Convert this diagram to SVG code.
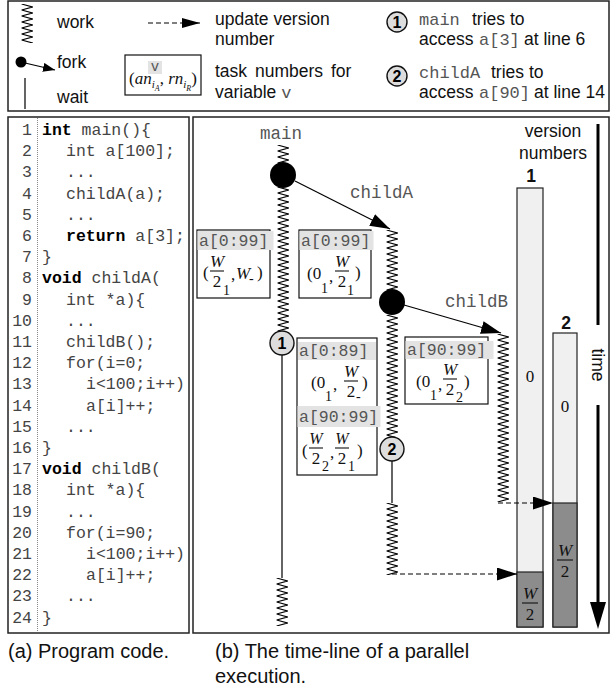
<svg xmlns="http://www.w3.org/2000/svg" width="613" height="691" viewBox="0 0 613 691">
<defs>
<style>
.frame{fill:none;stroke:#222;stroke-width:1.5}
.sans{font-family:"Liberation Sans",Arial,sans-serif;font-size:17.5px;fill:#111}
.cap{font-family:"Liberation Sans",Arial,sans-serif;font-size:20px;fill:#111}
.mono{font-family:"Liberation Mono","Courier New",monospace;fill:#555}
.code{font-family:"Liberation Mono","Courier New",monospace;font-size:16.5px;fill:#444}
.kw{font-weight:bold;fill:#000}
.ln{text-anchor:end}
.math{font-family:"Liberation Serif","Times New Roman",serif;font-size:17px;fill:#111}
.it{font-style:italic}
.sub{font-size:14px}
.mid{text-anchor:middle}
.box{fill:#fff;stroke:#111;stroke-width:1.2}
.band{fill:#e3e3e3}
.bandtxt{font-family:"Liberation Mono","Courier New",monospace;font-size:16.5px;fill:#555}
.zz{fill:url(#zig)}
.wait{stroke:#111;stroke-width:1.3}
.fork{fill:#000}
.mark{fill:#ddd;stroke:#111;stroke-width:1.4}
.marktxt{font-family:"Liberation Sans",Arial,sans-serif;font-weight:bold;font-size:16px;text-anchor:middle;fill:#000}
.arrow{stroke:#000;stroke-width:1.2;fill:none}
.dash{stroke:#000;stroke-width:1.2;stroke-dasharray:5 3;fill:none}
.bar{fill:#f0f0f0;stroke:#222;stroke-width:1.2}
.done{fill:#8c8c8c;stroke:#222;stroke-width:1.2}
.frac{stroke:#111;stroke-width:1.1}
</style>
<pattern id="zig" patternUnits="userSpaceOnUse" width="12" height="6"><polyline points="0.6,0 11.4,3 0.6,6" fill="none" stroke="#000" stroke-width="1.1"/></pattern>
<marker id="ah" viewBox="0 0 20 13" refX="20" refY="6.5" markerWidth="20" markerHeight="13" markerUnits="userSpaceOnUse" orient="auto"><path d="M0,0 L20,6.5 L0,13 z" fill="#000"/></marker>
<marker id="ahs" viewBox="0 0 12 9" refX="12" refY="4.5" markerWidth="12" markerHeight="9" markerUnits="userSpaceOnUse" orient="auto"><path d="M0,0 L12,4.5 L0,9 z" fill="#000"/></marker>
<marker id="ahm" viewBox="0 0 18 10" refX="18" refY="5" markerWidth="18" markerHeight="10" markerUnits="userSpaceOnUse" orient="auto"><path d="M0,0 L18,5 L0,10 z" fill="#000"/></marker>
</defs>
<rect width="613" height="691" fill="#fff"/>

<!-- Legend -->
<g id="legend">
<rect class="frame" x="8" y="1" width="601" height="110"/>
<rect class="zz" x="0" y="0" width="12" height="39" transform="translate(21,4)"/>
<text class="sans" x="57" y="28">work</text>
<circle class="fork" cx="21" cy="62" r="5.5"/>
<path class="arrow" d="M25,63 L55,70" marker-end="url(#ahs)"/>
<text class="sans" x="57" y="68">fork</text>
<line class="wait" x1="25" y1="78" x2="25" y2="109"/>
<text class="sans" x="57" y="103">wait</text>
<path class="dash" d="M148,23 L200,23" marker-end="url(#ahm)"/>
<text class="sans" x="215" y="25">update version</text>
<text class="sans" x="215" y="45">number</text>
<rect class="box" x="125" y="55" width="76" height="40"/>
<rect class="band" x="148" y="61" width="14" height="13"/>
<text class="mono mid" x="155" y="71" font-size="14">v</text>
<text class="math" x="129" y="84">(<tspan class="it">an</tspan><tspan class="it" font-size="11" dy="4">i</tspan><tspan class="it" font-size="8" dy="3">A</tspan><tspan dy="-7">, </tspan><tspan class="it">rn</tspan><tspan class="it" font-size="11" dy="4">i</tspan><tspan class="it" font-size="8" dy="3">R</tspan><tspan dy="-7">)</tspan></text>
<text class="sans" x="215" y="77" word-spacing="3">task numbers for</text>
<text class="sans" x="215" y="98">variable <tspan class="mono" font-size="17">v</tspan></text>
<circle class="mark" cx="397" cy="22" r="10"/>
<text class="marktxt" x="397" y="28">1</text>
<text class="sans" x="419" y="25"><tspan class="mono" font-size="17">main</tspan><tspan x="472">tries to</tspan></text>
<text class="sans" x="419" y="45">access<tspan class="mono" font-size="17" x="479">a[3]</tspan><tspan x="524">at line 6</tspan></text>
<circle class="mark" cx="397" cy="76" r="10"/>
<text class="marktxt" x="397" y="82">2</text>
<text class="sans" x="419" y="78"><tspan class="mono" font-size="17">childA</tspan><tspan x="491">tries to</tspan></text>
<text class="sans" x="419" y="98">access<tspan class="mono" font-size="17" x="479">a[90]</tspan><tspan x="534">at line 14</tspan></text>
</g>

<!-- Program code -->
<g id="code">
<rect class="frame" x="8" y="117" width="181" height="516"/>
<line x1="37.5" y1="118" x2="37.5" y2="632" stroke="#888" stroke-width="1" stroke-dasharray="1 1"/>
<g class="code ln">
<text x="32" y="135">1</text><text x="32" y="156.2">2</text><text x="32" y="177.4">3</text><text x="32" y="198.6">4</text>
<text x="32" y="219.8">5</text><text x="32" y="241">6</text><text x="32" y="262.2">7</text><text x="32" y="283.4">8</text>
<text x="32" y="304.6">9</text><text x="32" y="325.8">10</text><text x="32" y="347">11</text><text x="32" y="368.2">12</text>
<text x="32" y="389.4">13</text><text x="32" y="410.6">14</text><text x="32" y="431.8">15</text><text x="32" y="453">16</text>
<text x="32" y="474.2">17</text><text x="32" y="495.4">18</text><text x="32" y="516.6">19</text><text x="32" y="537.8">20</text>
<text x="32" y="559">21</text><text x="32" y="580.2">22</text><text x="32" y="601.4">23</text><text x="32" y="622.6">24</text>
</g>
<g class="code">
<text x="42" y="135"><tspan class="kw">int</tspan> main(){</text>
<text x="66" y="156.2">int a[100];</text>
<text x="66" y="177.4">...</text>
<text x="66" y="198.6">childA(a);</text>
<text x="66" y="219.8">...</text>
<text x="66" y="241"><tspan class="kw">return</tspan> a[3];</text>
<text x="42" y="262.2">}</text>
<text x="42" y="283.4"><tspan class="kw">void</tspan> childA(</text>
<text x="66" y="304.6">int *a){</text>
<text x="66" y="325.8">...</text>
<text x="66" y="347">childB();</text>
<text x="66" y="368.2">for(i=0;</text>
<text x="86" y="389.4">i&lt;100;i++)</text>
<text x="86" y="410.6">a[i]++;</text>
<text x="66" y="431.8">...</text>
<text x="42" y="453">}</text>
<text x="42" y="474.2"><tspan class="kw">void</tspan> childB(</text>
<text x="66" y="495.4">int *a){</text>
<text x="66" y="516.6">...</text>
<text x="66" y="537.8">for(i=90;</text>
<text x="86" y="559">i&lt;100;i++)</text>
<text x="86" y="580.2">a[i]++;</text>
<text x="66" y="601.4">...</text>
<text x="42" y="622.6">}</text>
</g>
</g>

<!-- Timeline frame -->
<rect class="frame" x="193" y="117" width="416" height="516"/>

<!-- version bars -->
<g id="versions">
<text class="sans mid" x="553" y="137">version</text>
<text class="sans mid" x="553" y="159">numbers</text>
<g id="version1">
<text class="sans mid" x="531" y="182" font-weight="bold">1</text>
<rect class="bar" x="517" y="188" width="26" height="439"/>
<rect class="done" x="517" y="572" width="26" height="55"/>
<text class="math mid" x="530" y="382">0</text>
<text class="math mid it" x="530" y="599">W</text>
<line class="frac" x1="522" y1="603" x2="538" y2="603"/>
<text class="math mid" x="530" y="620">2</text>
</g>
<g id="version2">
<text class="sans mid" x="566" y="329" font-weight="bold">2</text>
<rect class="bar" x="553" y="333" width="24" height="294"/>
<rect class="done" x="553" y="503" width="24" height="124"/>
<text class="math mid" x="565" y="412">0</text>
<text class="math mid it" x="565" y="556">W</text>
<line class="frac" x1="557" y1="560" x2="573" y2="560"/>
<text class="math mid" x="565" y="577">2</text>
</g>
</g>

<!-- time axis -->
<g id="time">
<line x1="598" y1="124" x2="598" y2="325" stroke="#000" stroke-width="3"/>
<text class="sans mid" transform="translate(592,365) rotate(90)">time</text>
<line x1="598" y1="405" x2="598" y2="605" stroke="#000" stroke-width="3"/>
<polygon points="590,602 606,602 598,629" fill="#000"/>
</g>

<!-- main thread -->
<g id="main-thread">
<text class="mono mid" x="281" y="139" font-size="17.5">main</text>
<rect class="zz" x="0" y="0" width="12" height="18" transform="translate(277,145)"/>
<circle class="fork" cx="283" cy="175" r="13"/>
<rect class="zz" x="0" y="0" width="12" height="144" transform="translate(277,187)"/>
<circle class="mark" cx="282" cy="343" r="12"/>
<text class="marktxt" x="282" y="349" font-size="17">1</text>
<line class="wait" x1="282" y1="355" x2="282" y2="578"/>
<rect class="zz" x="0" y="0" width="12" height="48" transform="translate(276,578)"/>
</g>

<!-- childA thread -->
<g id="childA-thread">
<text class="mono" x="350" y="198" font-size="17.5">childA</text>
<rect class="zz" x="0" y="0" width="12" height="60" transform="translate(386,230)"/>
<circle class="fork" cx="392" cy="302" r="13"/>
<rect class="zz" x="0" y="0" width="12" height="122" transform="translate(386,315)"/>
<circle class="mark" cx="392" cy="449" r="12"/>
<text class="marktxt" x="392" y="455" font-size="17">2</text>
<line class="wait" x1="392" y1="461" x2="392" y2="503"/>
<rect class="zz" x="0" y="0" width="12" height="72" transform="translate(386,503)"/>
</g>

<!-- childB thread -->
<g id="childB-thread">
<text class="mono" x="445" y="307" font-size="17.5">childB</text>
<rect class="zz" x="0" y="0" width="12" height="168" transform="translate(497,334)"/>
</g>

<!-- box A -->
<g id="boxA">
<rect class="box" x="197" y="230" width="73" height="68"/>
<rect class="band" x="197.5" y="231" width="76" height="19"/>
<text class="bandtxt" x="199" y="246">a[0:99]</text>
<g class="math">
<text x="203" y="278">(</text>
<text class="it mid" x="217" y="267">W</text>
<line class="frac" x1="210" y1="271" x2="224" y2="271"/>
<text class="mid" x="217" y="287">2</text>
<text class="sub" x="223" y="295">1</text>
<text x="231" y="280">,</text>
<text class="it" x="236" y="279">W</text>
<text class="sub" x="249" y="283">-</text>
<text x="257" y="278">)</text>
</g>
</g>

<!-- box B -->
<g id="boxB">
<rect class="box" x="299" y="230" width="72" height="68"/>
<rect class="band" x="299.5" y="231" width="74" height="19"/>
<text class="bandtxt" x="301" y="246">a[0:99]</text>
<g class="math">
<text x="307" y="279">(0</text>
<text class="sub" x="321" y="293">1</text>
<text x="329" y="282">,</text>
<text class="it mid" x="342" y="267">W</text>
<line class="frac" x1="335" y1="271" x2="349" y2="271"/>
<text class="mid" x="342" y="287">2</text>
<text class="sub" x="347" y="295">1</text>
<text x="355" y="278">)</text>
</g>
</g>

<!-- box C -->
<g id="boxC">
<rect class="box" x="297" y="338" width="80" height="137"/>
<rect class="band" x="298" y="342" width="78" height="18"/>
<text class="bandtxt" x="299" y="356">a[0:89]</text>
<g class="math">
<text x="311" y="388">(0</text>
<text class="sub" x="325" y="401">1</text>
<text x="333" y="390">,</text>
<text class="it mid" x="351" y="377">W</text>
<line class="frac" x1="344" y1="381" x2="358" y2="381"/>
<text class="mid" x="351" y="397">2</text>
<text class="sub" x="356" y="401">-</text>
<text x="362" y="388">)</text>
</g>
<rect class="band" x="297.5" y="406" width="83" height="21"/>
<text class="bandtxt" x="299" y="422">a[90:99]</text>
<g class="math">
<text x="302" y="456">(</text>
<text class="it mid" x="316" y="444" font-size="16">W</text>
<line class="frac" x1="309" y1="448" x2="323" y2="448"/>
<text class="mid" x="316" y="464">2</text>
<text class="sub" x="322" y="471">2</text>
<text x="330" y="458">,</text>
<text class="it mid" x="342" y="444" font-size="16">W</text>
<line class="frac" x1="335" y1="448" x2="349" y2="448"/>
<text class="mid" x="342" y="464">2</text>
<text class="sub" x="348" y="471">1</text>
<text x="357" y="456">)</text>
</g>
</g>

<!-- box D -->
<g id="boxD">
<rect class="box" x="405" y="337" width="83" height="67"/>
<rect class="band" x="405.5" y="341" width="88" height="18"/>
<text class="bandtxt" x="407" y="355">a[90:99]</text>
<g class="math">
<text x="416" y="387">(0</text>
<text class="sub" x="430" y="400">1</text>
<text x="438" y="390">,</text>
<text class="it mid" x="450" y="375">W</text>
<line class="frac" x1="443" y1="379" x2="457" y2="379"/>
<text class="mid" x="450" y="395">2</text>
<text class="sub" x="456" y="402">2</text>
<text x="464" y="387">)</text>
</g>
</g>

<!-- connectors -->
<g id="connectors">
<path class="arrow" d="M295,181 L390,229" marker-end="url(#ah)"/>
<path class="arrow" d="M404,305 L501,333" marker-end="url(#ah)"/>
<path class="dash" d="M498,503 L553,503" marker-end="url(#ah)"/>
<path class="dash" d="M392,574 L517,574" marker-end="url(#ah)"/>
</g>

<!-- captions -->
<text class="cap" x="8" y="658">(a) Program code.</text>
<text class="cap" x="215" y="658">(b) The time-line of a parallel</text>
<text class="cap" x="215" y="683">execution.</text>
</svg>
